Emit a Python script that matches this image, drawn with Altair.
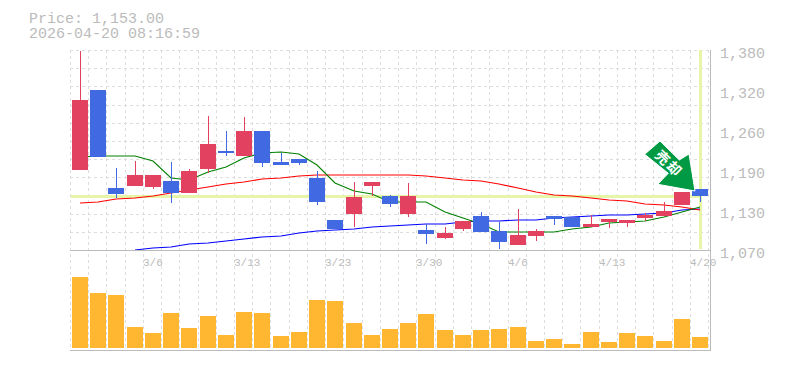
import altair as alt
import pandas as pd

dates = ["3/2","3/3","3/4","3/5","3/6","3/9","3/10","3/11","3/12","3/13","3/16","3/17","3/18","3/19","3/23","3/24","3/25","3/26","3/27","3/30","3/31","4/1","4/2","4/3","4/6","4/7","4/8","4/9","4/10","4/13","4/14","4/15","4/16","4/17","4/20"]
opens = [1194,1318,1166,1169,1168,1177,1158,1196,1223,1216,1254,1206,1211,1182,1117,1126,1169,1154,1126,1101,1089,1103,1123,1099,1078,1092,1123,1121,1106,1113,1112,1120,1123,1140,1165]
highs = [1378,1318,1197,1208,1186,1206,1196,1278,1254,1276,1254,1220,1211,1192,1117,1175,1175,1155,1174,1110,1106,1115,1129,1113,1134,1103,1123,1121,1124,1118,1117,1127,1144,1160,1165]
lows = [1194,1214,1151,1169,1165,1143,1158,1189,1216,1216,1199,1202,1202,1140,1103,1106,1154,1137,1121,1079,1087,1099,1098,1072,1078,1084,1109,1106,1106,1104,1106,1115,1123,1140,1144]
closes = [1302,1214,1157,1186,1186,1158,1192,1234,1220,1254,1205,1202,1205,1144,1103,1152,1175,1141,1154,1095,1096,1115,1098,1082,1093,1099,1118,1106,1110,1118,1117,1124,1130,1160,1153]
volumes = [71,55,53,21,15,35,20,32,13,36,35,12,16,48,47,25,13,19,25,34,18,13,18,19,21,7,9,4,16,6,15,12,7,29,11]
ma_green = [1214,1216,1216,1215,1208,1181,1178,1191,1199,1213,1221,1222,1219,1202,1174,1162,1157,1145,1144,1144,1129,1120,1110,1098,1098,1098,1098,1103,1106,1112,1114,1115,1121,1129,1137]
ma_red = [1143,1145,1149,1150,1154,1158,1163,1168,1172,1176,1180,1182,1185,1187,1187,1187,1187,1187,1186,1184,1181,1178,1177,1173,1166,1160,1155,1154,1150,1147,1146,1142,1139,1136,1132]
ma_blue = [None,None,None,1070,1073,1075,1079,1081,1084,1087,1090,1092,1096,1099,1101,1102,1105,1107,1108,1110,1111,1113,1115,1115,1116,1117,1120,1121,1122,1124,1124,1126,1128,1132,1134]
price_ticks = [1070,1132,1194,1256,1318,1380]
price_labels = ["1,070","1,130","1,190","1,260","1,320","1,380"]
grid_prices = [1070,1098.2,1126.4,1154.5,1182.7,1210.9,1239.1,1267.3,1295.5,1323.6,1351.8,1380]
date_ticks = ["3/6","3/13","3/23","3/30","4/6","4/13","4/20"]
header = ["Price: 1,153.00","2026-04-20 08:16:59"]
current_price = 1153
badge = ["売","却"]

TXT = "#bbbbbb"
GRID = "#dddddd"
FRAME = "#bbbbbb"
YEL = "#e6f5a8"
MONO = "Liberation Mono"

xs = alt.Scale(domain=[0, 35], range=[0.88, 639.1], round=True, padding=0, nice=False, zero=False)
ys = alt.Scale(domain=[1070, 1380], range=[200, 0], round=True, nice=False, zero=False)
vs = alt.Scale(domain=[0, 100], range=[298, 198], round=True, nice=False)
X = lambda f: alt.X(f, scale=xs, axis=None)
Y = lambda f: alt.Y(f, scale=ys, axis=None)

n = len(dates)
df = pd.DataFrame({"date": dates, "i": range(n), "c": [k + 0.5 for k in range(n)],
                   "o": opens, "h": highs, "l": lows, "cl": closes, "v": volumes,
                   "green": ma_green, "red": ma_red, "blue": ma_blue})
df["lo"] = df[["o", "cl"]].min(axis=1)
df["hi"] = df[["o", "cl"]].max(axis=1)
df["dir"] = ["up" if c >= o else "down" for o, c in zip(opens, closes)]
color = alt.Color("dir:N", legend=None, scale=alt.Scale(domain=["up", "down"], range=["#e2415f", "#4169e1"]))

# grid
vgrid = alt.Chart(pd.DataFrame({"i": list(range(n + 1))})).mark_rule(
    color=GRID, strokeWidth=1, strokeDash=[3, 3], xOffset=-0.5
).encode(x=X("i:Q"), y=alt.value(0), y2=alt.value(300))
hgrid = alt.Chart(pd.DataFrame({"p": grid_prices})).mark_rule(
    color=GRID, strokeWidth=1, strokeDash=[3, 3], yOffset=0.5
).encode(y=Y("p:Q"), x=alt.value(0), x2=alt.value(640))

# frame
f_mid = alt.Chart(pd.DataFrame({"p": [1070]})).mark_rule(color=FRAME, strokeWidth=1, yOffset=0.5).encode(
    y=Y("p:Q"), x=alt.value(0), x2=alt.value(641))
f_bot = alt.Chart(pd.DataFrame({"a": [0]})).mark_rule(color=FRAME, strokeWidth=1).encode(
    y=alt.value(300.5), x=alt.value(0), x2=alt.value(641))
f_right = alt.Chart(pd.DataFrame({"a": [0]})).mark_rule(color=FRAME, strokeWidth=1).encode(
    x=alt.value(640.5), y=alt.value(0), y2=alt.value(301))

# crosshair
last = n - 1 + 0.5
cross_h = alt.Chart(pd.DataFrame({"p": [current_price], "a": [0], "b": [last]})).mark_rule(
    color=YEL, strokeWidth=3, yOffset=0.5).encode(y=Y("p:Q"), x=X("a:Q"), x2="b:Q")
cross_v = alt.Chart(pd.DataFrame({"b": [last]})).mark_rule(
    color=YEL, strokeWidth=3, xOffset=0.5).encode(x=X("b:Q"), y=alt.value(0), y2=alt.value(199))

# moving averages
def ma(col, c):
    return alt.Chart(df.dropna(subset=[col])).mark_line(color=c, strokeWidth=1.1, clip=True).encode(
        x=X("c:Q"), y=Y(f"{col}:Q"))

# candles
wicks = alt.Chart(df).mark_rule(strokeWidth=1, xOffset=0.5).encode(x=X("c:Q"), y=Y("l:Q"), y2="h:Q", color=color)
bodies = alt.Chart(df).mark_bar(size=16, orient="vertical", strokeWidth=0).encode(
    x=X("c:Q"), y=Y("lo:Q"), y2="hi:Q", color=color)

# volume
vol = alt.Chart(df).mark_bar(size=16, orient="vertical", color="#ffb732", strokeWidth=0).encode(
    x=X("c:Q"), y=alt.Y("v:Q", scale=vs, axis=None))

# price labels
plabels = alt.Chart(pd.DataFrame({"p": price_ticks, "t": price_labels})).mark_text(
    font=MONO, fontSize=15, color=TXT, align="left", baseline="middle", dy=3
).encode(y=Y("p:Q"), x=alt.value(650), text="t:N")

# date labels
dl = df[df["date"].isin(date_ticks)]
dlabels = alt.Chart(dl).mark_text(
    font=MONO, fontSize=11, color=TXT, align="left", baseline="middle", xOffset=-1
).encode(x=X("i:Q"), y=alt.value(212.5), text="date:N")

# header
h1 = alt.Chart(pd.DataFrame({"t": [header[0]]})).mark_text(
    font=MONO, fontSize=15, color=TXT, align="left", baseline="middle"
).encode(x=alt.value(-41), y=alt.value(-32), text="t:N")
h2 = alt.Chart(pd.DataFrame({"t": [header[1]]})).mark_text(
    font=MONO, fontSize=15, color=TXT, align="left", baseline="middle"
).encode(x=alt.value(-41), y=alt.value(-17), text="t:N")

# arrow badge
arrow_path = "M-40,-48L-20.7,-29L-11,-35L-5,2L-42.3,-4.7L-31.7,-15.7L-55.3,-34.7Z"
arrow = alt.Chart(pd.DataFrame({"c": [last], "p": [1165]})).mark_point(
    shape=arrow_path, size=4, filled=True, fill="#009944", fillOpacity=1,
    stroke="#ffffff", strokeWidth=1, opacity=1
).encode(x=X("c:Q"), y=Y("p:Q"))
b1 = alt.Chart(pd.DataFrame({"t": [badge[0]]})).mark_text(
    font="Noto Sans CJK JP", fontWeight="bold", fontSize=14, color="#ffffff", angle=45, align="center", baseline="middle"
).encode(x=alt.value(591.7), y=alt.value(108.3), text="t:N")
b2 = alt.Chart(pd.DataFrame({"t": [badge[1]]})).mark_text(
    font="Noto Sans CJK JP", fontWeight="bold", fontSize=14, color="#ffffff", angle=45, align="center", baseline="middle"
).encode(x=alt.value(603.3), y=alt.value(119.3), text="t:N")

chart = alt.layer(
    vgrid, hgrid, cross_h, cross_v, ma("blue", "#0000ff"), ma("red", "#ff0000"), ma("green", "#008000"),
    wicks, bodies, vol, f_mid, f_bot, f_right, plabels, dlabels, h1, h2, arrow, b1, b2
).resolve_scale(y="independent", color="independent").properties(
    width=640, height=301,
    padding={"left": 62, "top": 42, "right": 66, "bottom": 6},
    autosize=alt.AutoSizeParams(type="none"),
).configure_view(stroke=None)

chart.save("out.html", embed_options={"renderer": "svg", "actions": False})
